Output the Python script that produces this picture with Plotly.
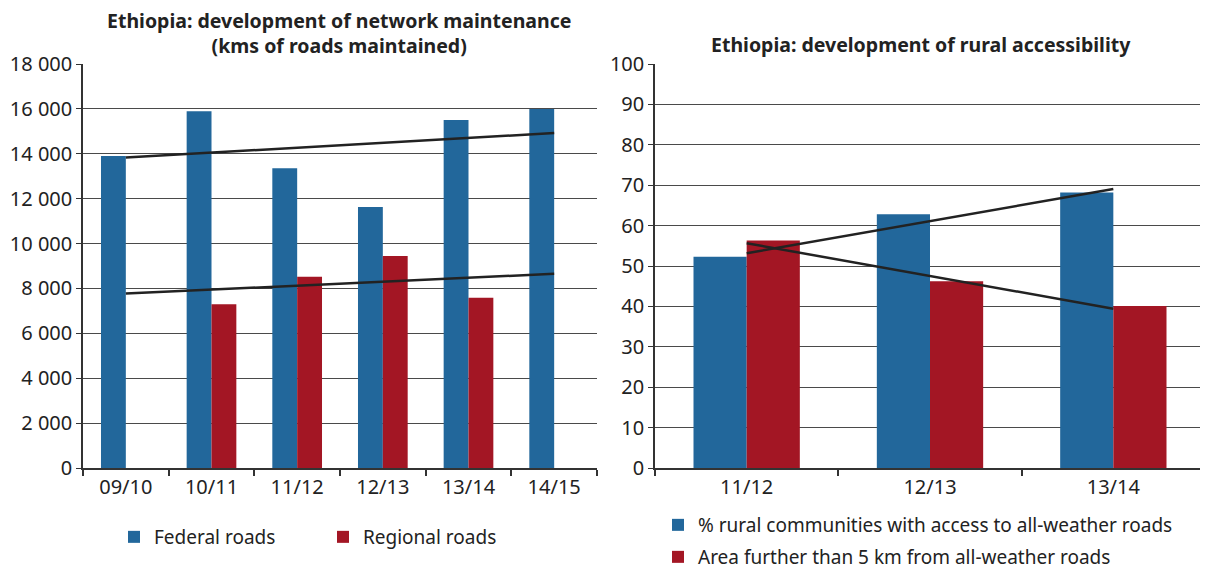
import numpy as np
import plotly.graph_objects as go

# ---- data ----
years_left = ["09/10", "10/11", "11/12", "12/13", "13/14", "14/15"]
federal_roads = [13900, 15900, 13350, 11630, 15500, 16000]
regional_roads = [None, 7300, 8520, 9450, 7580, None]

years_right = ["11/12", "12/13", "13/14"]
rural_access = [52.3, 62.8, 68.2]
area_far = [56.3, 46.2, 40.1]

BLUE = "#22679b"
RED = "#a31624"
LINE = "#222222"
GRID = "#4a4a4a"
FONT = "Noto Sans"

W, H = 1200, 562  # page body has an 8px margin


def trend(values, n):
    xs = [i for i, v in enumerate(values) if v is not None]
    ys = [v for v in values if v is not None]
    m, b = np.polyfit(xs, ys, 1)
    return [b, m * (n - 1) + b]


def px(x):  # page x -> paper fraction
    return (x - 8) / W


def py(y):  # page y -> paper fraction
    return (H - (y - 8)) / H


fig = go.Figure()

# left chart
fig.add_trace(go.Bar(x=years_left, y=federal_roads, name="Federal roads",
                     marker=dict(color=BLUE, line=dict(width=0)),
                     xaxis="x", yaxis="y", legend="legend"))
fig.add_trace(go.Bar(x=years_left, y=regional_roads, name="Regional roads",
                     marker=dict(color=RED, line=dict(width=0)),
                     xaxis="x", yaxis="y", legend="legend"))
fig.add_trace(go.Scatter(x=[years_left[0], years_left[-1]], y=trend(federal_roads, len(years_left)),
                         mode="lines", line=dict(color=LINE, width=2.5), showlegend=False,
                         xaxis="x", yaxis="y"))
fig.add_trace(go.Scatter(x=[years_left[0], years_left[-1]], y=trend(regional_roads, len(years_left)),
                         mode="lines", line=dict(color=LINE, width=2.5), showlegend=False,
                         xaxis="x", yaxis="y"))

# right chart
fig.add_trace(go.Bar(x=years_right, y=rural_access,
                     name="% rural communities with access to all-weather roads",
                     marker=dict(color=BLUE, line=dict(width=0)),
                     xaxis="x2", yaxis="y2", legend="legend2"))
fig.add_trace(go.Bar(x=years_right, y=area_far,
                     name="Area further than 5 km from all-weather roads",
                     marker=dict(color=RED, line=dict(width=0)),
                     xaxis="x2", yaxis="y2", legend="legend3"))
fig.add_trace(go.Scatter(x=[years_right[0], years_right[-1]], y=trend(rural_access, len(years_right)),
                         mode="lines", line=dict(color=LINE, width=2.5), showlegend=False,
                         xaxis="x2", yaxis="y2"))
fig.add_trace(go.Scatter(x=[years_right[0], years_right[-1]], y=trend(area_far, len(years_right)),
                         mode="lines", line=dict(color=LINE, width=2.5), showlegend=False,
                         xaxis="x2", yaxis="y2"))

ydom = [py(468), py(64)]
common_x = dict(type="category", showline=True, linecolor="#333", linewidth=2,
                ticks="outside", tickson="boundaries", ticklen=6, tickcolor="#333",
                tickwidth=1.5, showgrid=False, tickfont=dict(size=20, color="#222"),
                fixedrange=True, automargin=False)
common_y = dict(showline=True, linecolor="#333", linewidth=1.5, ticks="outside",
                ticklen=5, tickcolor="#333", showgrid=True, gridcolor=GRID, gridwidth=1.4,
                zeroline=False, tickfont=dict(size=20, color="#222"), domain=ydom,
                fixedrange=True, automargin=False)

legend_common = dict(font=dict(size=19, color="#222"), itemwidth=30,
                     bgcolor="rgba(0,0,0,0)", xanchor="left", yanchor="middle")

fig.update_layout(
    width=W, height=H,
    margin=dict(l=0, r=0, t=0, b=0, autoexpand=False),
    paper_bgcolor="white", plot_bgcolor="white",
    font=dict(family=FONT, color="#222"),
    separators=". ",
    barmode="group",
    bargap=0.42,
    bargroupgap=0,
    xaxis=dict(domain=[px(83), px(597)], anchor="y", **common_x),
    yaxis=dict(anchor="x", range=[0, 18000], dtick=2000, tickformat=",", **common_y),
    xaxis2=dict(domain=[px(655), px(1205)], anchor="y2", **common_x),
    yaxis2=dict(anchor="x2", range=[0, 100], dtick=10, **common_y),
    legend=dict(orientation="h", x=px(114), y=py(537), entrywidth=164, traceorder="normal",
                **legend_common),
    legend2=dict(orientation="v", x=px(658), y=py(525), **legend_common),
    legend3=dict(orientation="v", x=px(658), y=py(557), **legend_common),
    annotations=[
        dict(text="<b>Ethiopia: development of network maintenance<br>(kms of roads maintained)</b>",
             x=px(339), y=py(33), xref="paper", yref="paper", xanchor="center", yanchor="middle",
             showarrow=False, font=dict(size=19.5, color="#222")),
        dict(text="<b>Ethiopia: development of rural accessibility</b>",
             x=px(921), y=py(44), xref="paper", yref="paper", xanchor="center", yanchor="middle",
             showarrow=False, font=dict(size=19.5, color="#222")),
    ],
)

fig.write_html("out.html")
